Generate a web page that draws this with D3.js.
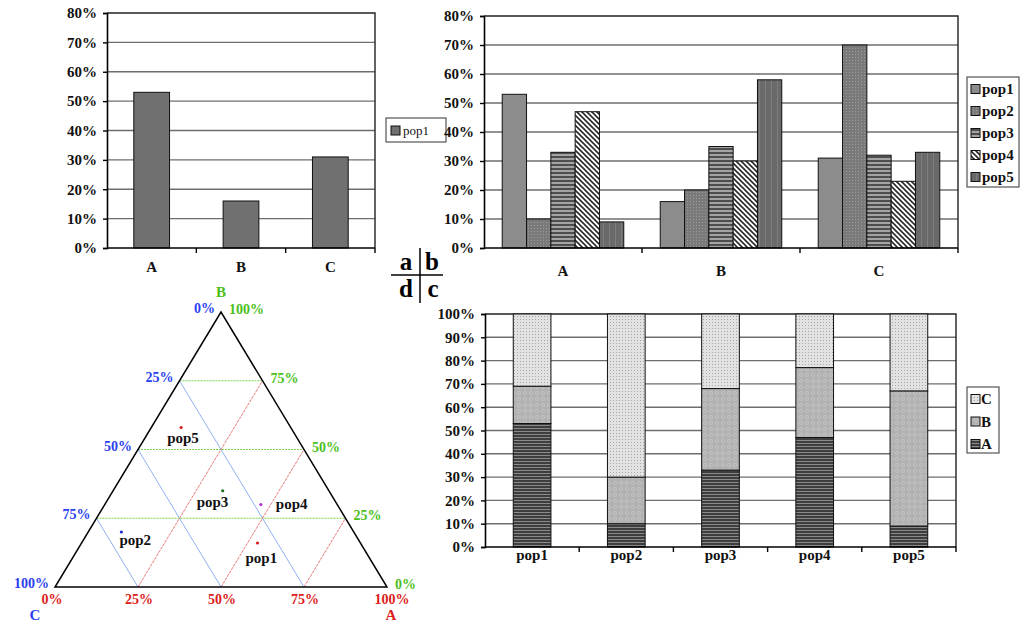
<!DOCTYPE html>
<html>
<head>
<meta charset="utf-8">
<script src="https://cdn.jsdelivr.net/npm/d3@7"></script>
<style>
  html, body { margin: 0; padding: 0; background: #fff; }
  svg { display: block; font-family: "Liberation Serif", "Times New Roman", serif; }
</style>
</head>
<body>
<svg id="fig" width="1021" height="624"></svg>
<script>
// ---- data -------------------------------------------------------------
const components = ["A", "B", "C"];
const populations = ["pop1", "pop2", "pop3", "pop4", "pop5"];
// share of each component (A, B, C) in every population
const shareA = [0.53, 0.10, 0.33, 0.47, 0.09];
const shareB = [0.16, 0.20, 0.35, 0.30, 0.58];
const shareC = [0.31, 0.70, 0.32, 0.23, 0.33];
const yTicks80 = [0, 0.1, 0.2, 0.3, 0.4, 0.5, 0.6, 0.7, 0.8];
const yTicks100 = [0, 0.1, 0.2, 0.3, 0.4, 0.5, 0.6, 0.7, 0.8, 0.9, 1.0];
const ternaryTicks = [0, 0.25, 0.5, 0.75, 1];
const pointColors = ["#e01b1b", "#1f2bd6", "#1d6b1d", "#b030d0", "#e01b1b"];

const shares = { A: shareA, B: shareB, C: shareC };
const pct = d3.format(".0%");

const svg = d3.select("#fig");
const defs = svg.append("defs");

// ---- fill patterns ----------------------------------------------------
function pattern(id, w, h, bg, draw) {
  const p = defs.append("pattern").attr("id", id)
    .attr("patternUnits", "userSpaceOnUse").attr("width", w).attr("height", h);
  p.append("rect").attr("width", w).attr("height", h).attr("fill", bg);
  draw(p);
}
pattern("p2", 3, 3, "#7a7a7a", p => {
  p.append("rect").attr("x", 0).attr("y", 0).attr("width", 1).attr("height", 1).attr("fill", "#9a9a9a");
});
pattern("p3", 4, 4, "#a4a4a4", p => {
  p.append("rect").attr("y", 0).attr("width", 4).attr("height", 2).attr("fill", "#4e4e4e");
});
pattern("p4", 5, 5, "#ffffff", p => {
  p.append("path").attr("d", "M0,0L5,5M-1,4L1,6M4,-1L6,1")
    .attr("stroke", "#2a2a2a").attr("stroke-width", 1.6);
});
pattern("p5", 6, 4, "#6a6a6a", p => {
  p.append("rect").attr("x", 3).attr("width", 1).attr("height", 4).attr("fill", "#7e7e7e");
});
pattern("sA", 4, 3, "#8a8a8a", p => {
  p.append("rect").attr("y", 0).attr("width", 4).attr("height", 2).attr("fill", "#3e3e3e");
});
pattern("sB", 6, 6, "#b2b2b2", p => {
  p.append("circle").attr("cx", 3).attr("cy", 3).attr("r", 1.6)
    .attr("fill", "none").attr("stroke", "#c4c4c4").attr("stroke-width", 0.8);
});
pattern("sC", 3, 3, "#e2e2e2", p => {
  p.append("rect").attr("x", 1).attr("y", 1).attr("width", 1).attr("height", 1).attr("fill", "#a8a8a8");
});

const popFill = { pop1: "#8c8c8c", pop2: "url(#p2)", pop3: "url(#p3)", pop4: "url(#p4)", pop5: "url(#p5)" };
const compFill = { A: "url(#sA)", B: "url(#sB)", C: "url(#sC)" };

// ---- shared frame drawing -------------------------------------------
function frame(g, x0, x1, y, ticks) {
  const [yBottom, yTop] = y.range();
  // horizontal grid lines
  g.append("g").selectAll("line").data(ticks.slice(1, -1)).join("line")
    .attr("x1", x0).attr("x2", x1)
    .attr("y1", d => y(d)).attr("y2", d => y(d))
    .attr("stroke", "#6e6e6e").attr("stroke-width", 1.4);
  // top and right border
  g.append("path").attr("d", `M${x0},${yTop}H${x1}V${yBottom}`)
    .attr("fill", "none").attr("stroke", "#222").attr("stroke-width", 1.4);
}
function axes(g, x0, x1, y, ticks, edges, fontSize) {
  const [yBottom] = y.range();
  const ay = g.append("g").attr("transform", `translate(${x0},0)`)
    .call(d3.axisLeft(y).tickValues(ticks).tickFormat(pct).tickSize(4).tickPadding(6));
  ay.select(".domain").attr("stroke", "#000").attr("stroke-width", 1.6);
  ay.selectAll(".tick line").attr("stroke", "#000").attr("stroke-width", 1.4);
  ay.selectAll("text").attr("font-family", "Liberation Serif").attr("font-weight", "bold")
    .attr("font-size", fontSize).attr("fill", "#111");
  g.append("line").attr("x1", x0).attr("x2", x1).attr("y1", yBottom).attr("y2", yBottom)
    .attr("stroke", "#000").attr("stroke-width", 1.6);
  g.append("g").selectAll("line").data(edges).join("line")
    .attr("x1", d => d).attr("x2", d => d)
    .attr("y1", yBottom).attr("y2", yBottom + 5)
    .attr("stroke", "#000").attr("stroke-width", 1.4);
}

// ---- panel a: pop1 composition ----------------------------------------
{
  const g = svg.append("g");
  const x = d3.scaleBand().domain(components).range([107, 375]).paddingInner(0.6).paddingOuter(0.3);
  const y = d3.scaleLinear().domain([0, 0.8]).range([248, 13]);
  frame(g, 107, 375, y, yTicks80);
  g.append("g").selectAll("rect").data(components).join("rect")
    .attr("x", d => x(d)).attr("width", x.bandwidth())
    .attr("y", d => y(shares[d][0])).attr("height", d => y(0) - y(shares[d][0]))
    .attr("fill", "#707070").attr("stroke", "#111").attr("stroke-width", 1);
  axes(g, 107, 375, y, yTicks80, [107 + x.step(), 107 + 2 * x.step(), 375], 15);
  g.append("g").selectAll("text").data(components).join("text")
    .attr("x", d => x(d) + x.bandwidth() / 2).attr("y", 272)
    .attr("text-anchor", "middle").attr("font-size", 15).attr("font-weight", "bold")
    .attr("fill", "#111").text(d => d);
  // legend
  const lg = g.append("g").attr("transform", "translate(386,118)");
  lg.append("rect").attr("width", 60).attr("height", 24).attr("fill", "#fff")
    .attr("stroke", "#333").attr("stroke-width", 1);
  lg.append("rect").attr("x", 5).attr("y", 8).attr("width", 9).attr("height", 9)
    .attr("fill", "#707070").attr("stroke", "#111");
  lg.append("text").attr("x", 17).attr("y", 17).attr("font-size", 13).attr("fill", "#111").text(populations[0]);
}

// ---- panel b: each component across populations ----------------------
{
  const g = svg.append("g");
  const x = d3.scaleBand().domain(components).range([484, 958]);
  const xi = d3.scaleBand().domain(populations).range([0, x.step()]).paddingOuter(0.75);
  const y = d3.scaleLinear().domain([0, 0.8]).range([248, 16]);
  frame(g, 484, 958, y, yTicks80);
  const rows = [];
  components.forEach(c => populations.forEach((p, i) => rows.push({ c, p, v: shares[c][i] })));
  g.append("g").selectAll("rect").data(rows).join("rect")
    .attr("x", d => x(d.c) + xi(d.p)).attr("width", xi.bandwidth())
    .attr("y", d => y(d.v)).attr("height", d => y(0) - y(d.v))
    .attr("fill", d => popFill[d.p]).attr("stroke", "#111").attr("stroke-width", 1);
  axes(g, 484, 958, y, yTicks80, [x("B"), x("C"), 958], 15);
  g.append("g").selectAll("text").data(components).join("text")
    .attr("x", d => x(d) + x.step() / 2).attr("y", 276)
    .attr("text-anchor", "middle").attr("font-size", 15).attr("font-weight", "bold")
    .attr("fill", "#111").text(d => d);
  const lg = g.append("g").attr("transform", "translate(967,77)");
  lg.append("rect").attr("width", 52).attr("height", 110).attr("fill", "#fff")
    .attr("stroke", "#333").attr("stroke-width", 1);
  const ly = d3.scalePoint().domain(populations).range([12, 100]);
  populations.forEach(p => {
    lg.append("rect").attr("x", 4).attr("y", ly(p) - 4.5).attr("width", 9).attr("height", 9)
      .attr("fill", popFill[p]).attr("stroke", "#111");
    lg.append("text").attr("x", 15).attr("y", ly(p) + 5).attr("font-size", 15)
      .attr("font-weight", "bold").attr("fill", "#111").text(p);
  });
}

// ---- panel c: stacked composition per population ---------------------
{
  const g = svg.append("g");
  const x = d3.scaleBand().domain(populations).range([485, 956]).paddingInner(0.6).paddingOuter(0.3);
  const y = d3.scaleLinear().domain([0, 1]).range([547, 314]);
  frame(g, 485, 956, y, yTicks100);
  const table = populations.map((p, i) => ({ p, A: shareA[i], B: shareB[i], C: shareC[i] }));
  const stack = d3.stack().keys(components)(table);
  g.append("g").selectAll("g").data(stack).join("g")
    .attr("fill", s => compFill[s.key])
    .selectAll("rect").data(s => s).join("rect")
    .attr("x", d => x(d.data.p)).attr("width", x.bandwidth())
    .attr("y", d => y(d[1])).attr("height", d => y(d[0]) - y(d[1]))
    .attr("stroke", "#111").attr("stroke-width", 1);
  const edges = populations.slice(1).map(p => x(p) - x.step() * x.paddingInner() / 2);
  axes(g, 485, 956, y, yTicks100, edges.concat([956]), 15);
  g.append("g").selectAll("text").data(populations).join("text")
    .attr("x", d => x(d) + x.bandwidth() / 2).attr("y", 560)
    .attr("text-anchor", "middle").attr("font-size", 15).attr("font-weight", "bold")
    .attr("fill", "#111").text(d => d);
  const lg = g.append("g").attr("transform", "translate(967,387)");
  lg.append("rect").attr("width", 32).attr("height", 66).attr("fill", "#fff")
    .attr("stroke", "#333").attr("stroke-width", 1);
  const order = ["C", "B", "A"];
  const ly = d3.scalePoint().domain(order).range([12, 57]);
  order.forEach(c => {
    lg.append("rect").attr("x", 4).attr("y", ly(c) - 4.5).attr("width", 9).attr("height", 9)
      .attr("fill", compFill[c]).attr("stroke", "#111");
    lg.append("text").attr("x", 14).attr("y", ly(c) + 5).attr("font-size", 15)
      .attr("font-weight", "bold").attr("fill", "#111").text(c);
  });
}

// ---- panel key ------------------------------------------------------------
{
  const g = svg.append("g").attr("font-weight", "bold").attr("font-size", 25).attr("fill", "#000");
  g.append("line").attr("x1", 391).attr("x2", 443).attr("y1", 275).attr("y2", 275).attr("stroke", "#000").attr("stroke-width", 1.5);
  g.append("line").attr("x1", 420).attr("x2", 420).attr("y1", 248).attr("y2", 303).attr("stroke", "#000").attr("stroke-width", 1.5);
  g.append("text").attr("x", 406).attr("y", 270).attr("text-anchor", "middle").text("a");
  g.append("text").attr("x", 432).attr("y", 270).attr("text-anchor", "middle").text("b");
  g.append("text").attr("x", 406).attr("y", 297).attr("text-anchor", "middle").text("d");
  g.append("text").attr("x", 433).attr("y", 297).attr("text-anchor", "middle").text("c");
}

// ---- panel d: ternary plot -------------------------------------------
{
  const g = svg.append("g");
  const blue = "#2a3ff0", green = "#4cbf1a", red = "#dd2020";
  // horizontal position from (A + B/2), vertical from B
  const tx = d3.scaleLinear().domain([0, 1]).range([55, 387]);
  const ty = d3.scaleLinear().domain([0, 1]).range([587, 312]);
  const P = (a, b) => [tx(a + b / 2), ty(b)];
  const line = d3.line();
  const inner = ternaryTicks.slice(1, -1);
  // constant-B (green), constant-C (blue), constant-A (red)
  g.append("g").selectAll("path").data(inner).join("path")
    .attr("d", b => line([P(0, b), P(1 - b, b)]))
    .attr("stroke", "#7ad24e").attr("stroke-width", 1).attr("stroke-dasharray", "2,1").attr("fill", "none");
  g.append("g").selectAll("path").data(inner).join("path")
    .attr("d", c => line([P(1 - c, 0), P(0, 1 - c)]))
    .attr("stroke", "#8fb0f2").attr("stroke-width", 1).attr("fill", "none");
  g.append("g").selectAll("path").data(inner).join("path")
    .attr("d", a => line([P(a, 0), P(a, 1 - a)]))
    .attr("stroke", "#e87878").attr("stroke-width", 1).attr("stroke-dasharray", "3,1").attr("fill", "none");
  g.append("path").attr("d", line([P(0, 0), P(1, 0), P(0, 1)]) + "Z")
    .attr("fill", "none").attr("stroke", "#000").attr("stroke-width", 1.5);

  const lab = g.append("g").attr("font-size", 14).attr("font-weight", "bold");
  // left side: C share
  lab.selectAll(".lc").data(ternaryTicks).join("text").attr("class", "lc")
    .attr("x", c => P(0, 1 - c)[0] - 6).attr("y", c => P(0, 1 - c)[1] + 1)
    .attr("text-anchor", "end").attr("fill", blue).text(pct);
  // right side: B share
  lab.selectAll(".rb").data(ternaryTicks).join("text").attr("class", "rb")
    .attr("x", b => P(1 - b, b)[0] + 8).attr("y", b => P(1 - b, b)[1] + 2)
    .attr("text-anchor", "start").attr("fill", green).text(pct);
  // bottom: A share
  lab.selectAll(".ba").data(ternaryTicks).join("text").attr("class", "ba")
    .attr("x", a => P(a, 0)[0] + (a === 0 ? -3 : a === 1 ? 5 : 1)).attr("y", 604)
    .attr("text-anchor", "middle").attr("fill", red).text(pct);
  lab.append("text").attr("x", P(0, 1)[0]).attr("y", 297).attr("text-anchor", "middle")
    .attr("font-size", 15).attr("fill", green).text("B");
  lab.append("text").attr("x", 35).attr("y", 620).attr("text-anchor", "middle")
    .attr("font-size", 15).attr("fill", blue).text("C");
  lab.append("text").attr("x", 391).attr("y", 620).attr("text-anchor", "middle")
    .attr("font-size", 15).attr("fill", red).text("A");

  // population points with their name labels
  const labelOffset = [[-12, 20], [-2, 13], [-26, 16], [15, 4], [-14, 15]];
  const pts = populations.map((p, i) => ({ p, i, xy: P(shareA[i], shareB[i]) }));
  g.append("g").selectAll("circle").data(pts).join("circle")
    .attr("cx", d => d.xy[0]).attr("cy", d => d.xy[1]).attr("r", 1.6)
    .attr("fill", d => pointColors[d.i]);
  g.append("g").selectAll("text").data(pts).join("text")
    .attr("x", d => d.xy[0] + labelOffset[d.i][0]).attr("y", d => d.xy[1] + labelOffset[d.i][1])
    .attr("font-size", 15).attr("font-weight", "bold").attr("fill", "#111").text(d => d.p);
}
</script>
</body>
</html>
